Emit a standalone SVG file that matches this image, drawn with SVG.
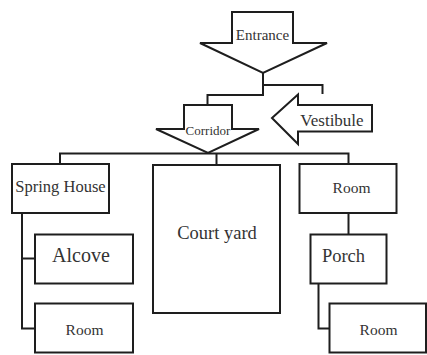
<svg xmlns="http://www.w3.org/2000/svg" width="427" height="355" viewBox="0 0 427 355">
<style>
.box{fill:#fff;stroke:#1e1e1e;stroke-width:2}
.arr{fill:#fff;stroke:#1e1e1e;stroke-width:2;stroke-linejoin:miter}
.con{fill:none;stroke:#1e1e1e;stroke-width:2}
.t{font-family:'Liberation Serif','Times New Roman','DejaVu Serif',serif;fill:#333;text-anchor:middle}
</style>
<rect width="427" height="355" fill="#fff"/>
<g id="connectors">
<path class="con" d="M263,73 V95 H207.5 V105"/>
<path class="con" d="M263,85 H322.5 V94"/>
<path class="con" d="M60,164 V153.5 H348.5 V164"/>
<path class="con" d="M216.5,153.5 V165"/>
<path class="con" d="M22,213 V328.5 H35"/>
<path class="con" d="M22,258.5 H35"/>
<path class="con" d="M348.5,213 V234.5"/>
<path class="con" d="M318.5,283.5 V328.5 H329.5"/>
</g>
<g id="entrance">
<polygon class="arr" points="232,12 293,12 293,43 327,43 263,73 200,43 232,43"/>
<text class="t" x="262.5" y="39.5" font-size="15">Entrance</text>
</g>
<g id="corridor">
<polygon class="arr" points="184,105 232,105 232,129 259,129 208,153 156,129 184,129"/>
<text class="t" x="208" y="135" font-size="13">Corridor</text>
</g>
<g id="vestibule">
<polygon class="arr" points="272,118 298,94.5 298,105 372,105 372,131.5 298,131.5 298,144"/>
<text class="t" x="332" y="125.5" font-size="17">Vestibule</text>
</g>
<g id="spring-house">
<rect class="box" x="12" y="164" width="97" height="49"/>
<text class="t" x="60.5" y="191.5" font-size="16.5">Spring House</text>
</g>
<g id="court-yard">
<rect class="box" x="153" y="165" width="127" height="148"/>
<text class="t" x="217" y="238.5" font-size="18.5">Court yard</text>
</g>
<g id="room-top-right">
<rect class="box" x="299.5" y="164" width="97" height="49"/>
<text class="t" x="351.5" y="193" font-size="15.5">Room</text>
</g>
<g id="alcove">
<rect class="box" x="35" y="234.5" width="98" height="49"/>
<text class="t" x="81" y="261.5" font-size="20">Alcove</text>
</g>
<g id="room-left">
<rect class="box" x="35" y="303.5" width="98" height="49"/>
<text class="t" x="84.5" y="335" font-size="15.5">Room</text>
</g>
<g id="porch">
<rect class="box" x="310.5" y="234.5" width="76" height="49"/>
<text class="t" x="343.5" y="261.5" font-size="18.5">Porch</text>
</g>
<g id="room-bottom-right">
<rect class="box" x="329.5" y="303.5" width="96.5" height="49"/>
<text class="t" x="378.5" y="335" font-size="15.5">Room</text>
</g>
</svg>
